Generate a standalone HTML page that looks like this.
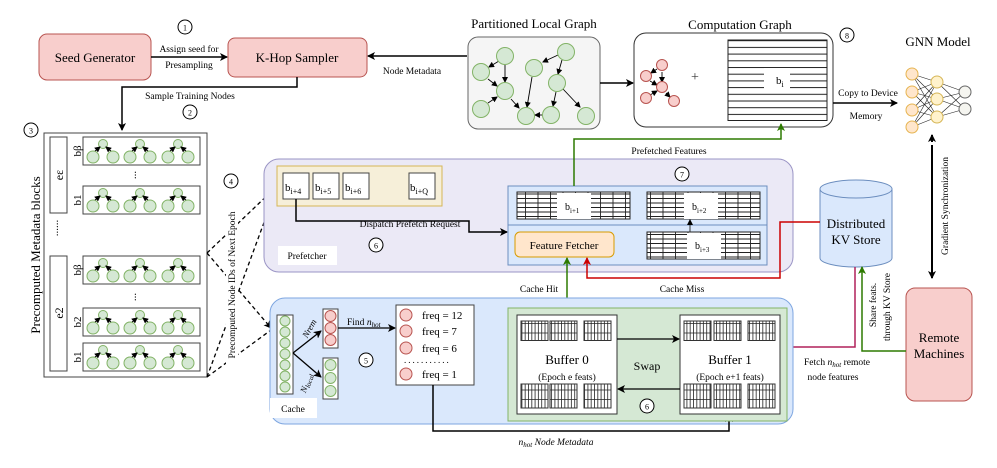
<!DOCTYPE html>
<html><head><meta charset="utf-8"><style>
html,body{margin:0;padding:0;background:#fff;font-family:"Liberation Serif","DejaVu Serif",serif}
svg{display:block}
svg text{font-family:"Liberation Serif","DejaVu Serif",serif}
</style></head><body>
<svg width="997" height="468" viewBox="0 0 997 468" xmlns="http://www.w3.org/2000/svg" font-family="Liberation Serif, DejaVu Serif, serif">
<defs>
<marker id="ah" markerWidth="8" markerHeight="8" refX="7" refY="4" orient="auto" markerUnits="userSpaceOnUse"><path d="M0,0 L8,4 L0,8 L2,4z" fill="#000"/></marker>
<marker id="ahg" markerWidth="8" markerHeight="8" refX="7" refY="4" orient="auto" markerUnits="userSpaceOnUse"><path d="M0,0 L8,4 L0,8 L2,4z" fill="#2d7a00"/></marker>
<marker id="ahr" markerWidth="8" markerHeight="8" refX="7" refY="4" orient="auto" markerUnits="userSpaceOnUse"><path d="M0,0 L8,4 L0,8 L2,4z" fill="#c00"/></marker>
<marker id="ahm" markerWidth="8" markerHeight="8" refX="7" refY="4" orient="auto" markerUnits="userSpaceOnUse"><path d="M0,0 L8,4 L0,8 L2,4z" fill="#b0205a"/></marker>
<marker id="ahs" markerWidth="6" markerHeight="6" refX="5" refY="3" orient="auto" markerUnits="userSpaceOnUse"><path d="M0,0 L6,3 L0,6z" fill="#000"/></marker>
<pattern id="grid" width="12.5" height="4.5" patternUnits="userSpaceOnUse"><rect width="12.5" height="4.5" fill="#fff"/><path d="M0,0.5H12.5M0.5,0V4.5" stroke="#222" stroke-width="0.9"/></pattern>
<pattern id="vg" width="3.3" height="9.5" patternUnits="userSpaceOnUse"><rect width="3.3" height="9.5" fill="#fff"/><path d="M0.5,0V9.5M0,0.5H3.3" stroke="#222" stroke-width="0.8"/></pattern>
<pattern id="hl" width="10" height="6.7" patternUnits="userSpaceOnUse"><rect width="10" height="6.7" fill="#fff"/><path d="M0,0.5H10" stroke="#222" stroke-width="1"/></pattern>
<g id="tree">
<circle cx="20" cy="7" r="4.5" fill="#d5e8d4" stroke="#82b366"/>
<circle cx="10" cy="20" r="6" fill="#d5e8d4" stroke="#82b366"/>
<circle cx="30" cy="20" r="6" fill="#d5e8d4" stroke="#82b366"/>
<path d="M12,14 L17,10" stroke="#000" stroke-width="0.9" marker-end="url(#ahs)"/>
<path d="M28,14 L23,10" stroke="#000" stroke-width="0.9" marker-end="url(#ahs)"/>
</g>
<g id="row"><rect x="0" y="0" width="117" height="28" fill="#fff" stroke="#444"/><use href="#tree" x="0" y="0"/><use href="#tree" x="37" y="0"/><use href="#tree" x="75" y="0"/></g>
</defs>

<!-- top row -->
<rect x="39" y="34" width="112" height="46" rx="8" fill="#f8cecc" stroke="#b85450"/>
<text x="95" y="62" font-size="13" text-anchor="middle">Seed Generator</text>
<rect x="228" y="38" width="139" height="39" rx="7" fill="#f8cecc" stroke="#b85450"/>
<text x="297" y="62" font-size="13" text-anchor="middle">K-Hop Sampler</text>
<circle cx="185" cy="27" r="7" fill="#fff" stroke="#000"/><text x="185" y="30.5" font-size="8" text-anchor="middle">1</text>
<path d="M151,57H227" stroke="#000" stroke-width="1.5" marker-end="url(#ah)"/>
<text x="189" y="52" font-size="9.5" text-anchor="middle">Assign seed for</text>
<text x="189" y="68" font-size="9.5" text-anchor="middle">Presampling</text>
<path d="M467,56H368" stroke="#000" stroke-width="1.5" marker-end="url(#ah)"/>
<text x="412" y="74" font-size="9.5" text-anchor="middle">Node Metadata</text>
<path d="M297,77V87H122V130" fill="none" stroke="#000" stroke-width="1.5" marker-end="url(#ah)"/>
<text x="190" y="99" font-size="9.5" text-anchor="middle">Sample Training Nodes</text>
<circle cx="190" cy="112" r="7" fill="#fff" stroke="#000"/><text x="190" y="115.5" font-size="8" text-anchor="middle">2</text>

<!-- partitioned graph -->
<text x="534" y="28" font-size="13" text-anchor="middle">Partitioned Local Graph</text>
<rect x="468" y="37" width="132" height="92" rx="10" fill="#f5f5f5" stroke="#666"/>
<g stroke="#000" stroke-width="0.9">
<path d="M499,61L489,67" marker-end="url(#ahs)"/><path d="M505,65V82" marker-end="url(#ahs)"/><path d="M488,79L497,86" marker-end="url(#ahs)"/>
<path d="M488,103L497,97" marker-end="url(#ahs)"/><path d="M511,99L519,108" marker-end="url(#ahs)"/><path d="M532,77L527,107" marker-end="url(#ahs)"/>
<path d="M558,55L543,62" marker-end="url(#ahs)"/><path d="M562,60L558,74" marker-end="url(#ahs)"/><path d="M556,92L553,106" marker-end="url(#ahs)"/>
<path d="M563,89L580,107" marker-end="url(#ahs)"/><path d="M543,115H535" marker-end="url(#ahs)"/>
</g>
<g fill="#d5e8d4" stroke="#82b366">
<circle cx="505" cy="56" r="8.5"/><circle cx="481" cy="72" r="8.5"/><circle cx="505" cy="91" r="8.5"/><circle cx="481" cy="109" r="8.5"/>
<circle cx="534" cy="68" r="8.5"/><circle cx="566" cy="52" r="8.5"/><circle cx="557" cy="83" r="8.5"/><circle cx="526" cy="116" r="8.5"/>
<circle cx="551" cy="115" r="8.5"/><circle cx="586" cy="116" r="8.5"/>
</g>
<path d="M600,83H633" stroke="#000" stroke-width="1.5" marker-end="url(#ah)"/>

<!-- computation graph -->
<text x="740" y="29" font-size="13" text-anchor="middle">Computation Graph</text>
<rect x="634" y="33" width="199" height="94" rx="12" fill="#fff" stroke="#333"/>
<circle cx="847" cy="35" r="7" fill="#fff" stroke="#000"/><text x="847" y="38.5" font-size="8" text-anchor="middle">8</text>
<g stroke="#000" stroke-width="0.9">
<path d="M657,69L651,73" marker-end="url(#ahs)"/><path d="M662,72V82" marker-end="url(#ahs)"/><path d="M650,81L657,85" marker-end="url(#ahs)"/>
<path d="M650,95L657,91" marker-end="url(#ahs)"/><path d="M666,93L670,97" marker-end="url(#ahs)"/>
</g>
<g fill="#f8cecc" stroke="#b85450"><circle cx="662" cy="65" r="5.5"/><circle cx="646" cy="76" r="5.5"/><circle cx="662" cy="87" r="5.5"/><circle cx="646" cy="98" r="5.5"/><circle cx="674" cy="101" r="5.5"/></g>
<text x="695" y="81" font-size="14" text-anchor="middle" fill="#333">+</text>
<rect x="728" y="40" width="99" height="80.5" fill="url(#hl)" stroke="#222"/>
<rect x="764" y="68" width="26" height="25" fill="#fff"/>
<text x="776" y="84" font-size="11">b<tspan font-size="8" dy="3">i</tspan></text>
<path d="M833,103H897" stroke="#000" stroke-width="1.5" marker-end="url(#ah)"/>
<text x="868" y="96" font-size="9.5" text-anchor="middle">Copy to Device</text>
<text x="866" y="119" font-size="9.5" text-anchor="middle">Memory</text>

<!-- GNN -->
<text x="938" y="46" font-size="13" text-anchor="middle">GNN Model</text>
<g stroke="#222" stroke-width="0.6">
<path d="M912,74L937,82M912,74L937,99M912,74L937,117M912,92L937,82M912,92L937,99M912,92L937,117M912,110L937,82M912,110L937,99M912,110L937,117M912,127L937,82M912,127L937,99M912,127L937,117M937,82L965,92M937,82L965,109M937,99L965,92M937,99L965,109M937,117L965,92M937,117L965,109"/>
</g>
<g fill="#ffe6cc" stroke="#e6b450"><circle cx="912" cy="74" r="6"/><circle cx="912" cy="92" r="6"/><circle cx="912" cy="110" r="6"/><circle cx="912" cy="127" r="6"/></g>
<g fill="#fff2cc" stroke="#d6b656"><circle cx="937" cy="82" r="6"/><circle cx="937" cy="99" r="6"/><circle cx="937" cy="117" r="6"/></g>
<g fill="#f5f5f0" stroke="#666"><circle cx="965" cy="92" r="6"/><circle cx="965" cy="109" r="6"/></g>
<path d="M932,145V270" stroke="#000" stroke-width="2"/>
<path d="M932,142V135" stroke="#000" stroke-width="2" marker-end="url(#ah)"/>
<path d="M932,270V278" stroke="#000" stroke-width="2" marker-end="url(#ah)"/>
<text transform="translate(948,206) rotate(-90)" font-size="9.5" text-anchor="middle">Gradient Synchronization</text>

<!-- metadata blocks -->
<circle cx="31" cy="130" r="7" fill="#fff" stroke="#000"/><text x="31" y="133.5" font-size="8" text-anchor="middle">3</text>
<rect x="44" y="133" width="163" height="244" fill="#fff" stroke="#444"/>
<text transform="translate(40,255) rotate(-90)" font-size="13" text-anchor="middle">Precomputed Metadata blocks</text>
<rect x="50" y="137" width="17" height="76" fill="#fff" stroke="#444"/>
<text transform="translate(63,175) rotate(-90)" font-size="12" text-anchor="middle">eε</text>
<rect x="50" y="256" width="17" height="115" fill="#fff" stroke="#444"/>
<text transform="translate(63,313) rotate(-90)" font-size="12" text-anchor="middle">e2</text>
<text transform="translate(58,228) rotate(-90)" font-size="11" text-anchor="middle">......</text>
<use href="#row" x="83" y="137"/><use href="#row" x="83" y="186"/><use href="#row" x="83" y="256"/><use href="#row" x="83" y="308"/><use href="#row" x="83" y="343"/>
<g font-size="11" text-anchor="middle">
<text transform="translate(81,151) rotate(-90)">bβ</text><text transform="translate(81,200) rotate(-90)">b1</text>
<text transform="translate(81,270) rotate(-90)">bβ</text><text transform="translate(81,322) rotate(-90)">b2</text><text transform="translate(81,357) rotate(-90)">b1</text>
<text transform="translate(136,175) rotate(-90)">...</text><text transform="translate(136,297) rotate(-90)">...</text>
</g>

<!-- dashed -->
<circle cx="231" cy="181" r="7" fill="#fff" stroke="#000"/><text x="231" y="184.5" font-size="8" text-anchor="middle">4</text>
<g stroke="#000" stroke-width="1.3" stroke-dasharray="4,3" fill="none">
<path d="M207,253L275,188" marker-end="url(#ah)"/><path d="M207,253L271,328" marker-end="url(#ah)"/>
<path d="M207,377L276,190"/><path d="M207,377L271,330"/>
</g>
<rect x="226" y="205" width="12" height="160" fill="#fff"/>
<text transform="translate(235,285) rotate(-90)" font-size="9.5" text-anchor="middle">Precomputed Node IDs of Next Epoch</text>

<!-- prefetcher -->
<rect x="264" y="159" width="529" height="113" rx="15" fill="#ebe9f6" stroke="#9a94c5"/>
<rect x="278" y="246" width="59" height="19" fill="#fff"/>
<text x="307" y="259" font-size="9.5" text-anchor="middle">Prefetcher</text>
<circle cx="376" cy="245" r="7" fill="#fff" stroke="#000"/><text x="376" y="248.5" font-size="8" text-anchor="middle">6</text>
<rect x="277" y="166" width="165" height="40" fill="#f6efd9" stroke="#d6b656"/>
<g fill="#fff" stroke="#444"><rect x="283" y="173" width="26" height="26"/><rect x="313" y="173" width="26" height="26"/><rect x="343" y="173" width="26" height="26"/><rect x="409" y="173" width="26" height="26"/></g>
<g font-size="11"><text x="285" y="191">b<tspan font-size="8" dy="3">i+4</tspan></text><text x="315" y="191">b<tspan font-size="8" dy="3">i+5</tspan></text><text x="345" y="191">b<tspan font-size="8" dy="3">i+6</tspan></text><text x="410" y="191">b<tspan font-size="8" dy="3">i+Q</tspan></text></g>
<path d="M296,199V221H469V232H507" fill="none" stroke="#000" stroke-width="1.5" marker-end="url(#ah)"/>
<text x="410" y="227" font-size="9.5" text-anchor="middle">Dispatch Prefetch Request</text>
<circle cx="682" cy="174" r="7" fill="#fff" stroke="#000"/><text x="682" y="177.5" font-size="8" text-anchor="middle">7</text>
<rect x="508" y="186" width="259" height="79" fill="#dae8fc" stroke="#6c8ebf"/>
<path d="M508,225H767" stroke="#6c8ebf"/>
<rect x="517" y="192" width="113" height="27" fill="url(#grid)" stroke="#222"/><rect x="557" y="193" width="34" height="26" fill="#fff"/>
<text x="565" y="210" font-size="10">b<tspan font-size="7" dy="3">i+1</tspan></text>
<rect x="647" y="192" width="113" height="27" fill="url(#grid)" stroke="#222"/><rect x="684" y="193" width="34" height="26" fill="#fff"/>
<text x="692" y="210" font-size="10">b<tspan font-size="7" dy="3">i+2</tspan></text>
<rect x="647" y="232" width="113" height="27" fill="url(#grid)" stroke="#222"/><rect x="687" y="233" width="34" height="26" fill="#fff"/>
<text x="695" y="249" font-size="10">b<tspan font-size="7" dy="3">i+3</tspan></text>
<path d="M690,232V220" stroke="#333" marker-end="url(#ahs)"/>
<rect x="515" y="232" width="99" height="25" rx="5" fill="#ffe6cc" stroke="#d79b00"/>
<text x="564" y="249" font-size="11" text-anchor="middle">Feature Fetcher</text>
<path d="M574,186V139H781V124" fill="none" stroke="#2d7a00" stroke-width="1.5" marker-end="url(#ahg)"/>
<text x="669" y="154" font-size="9.5" text-anchor="middle">Prefetched Features</text>

<!-- KV store -->
<path d="M820,189V258A36,9 0 0 0 892,258V189" fill="#dae8fc" stroke="#6c8ebf"/>
<ellipse cx="856" cy="189" rx="36" ry="9" fill="#dae8fc" stroke="#6c8ebf"/>
<text x="856" y="228" font-size="13" text-anchor="middle">Distributed</text>
<text x="856" y="244" font-size="13" text-anchor="middle">KV Store</text>
<path d="M820,222H780V278H587V258" fill="none" stroke="#c00" stroke-width="1.5" marker-end="url(#ahr)"/>
<text x="682" y="292" font-size="9.5" text-anchor="middle">Cache Miss</text>
<path d="M567,314V258" stroke="#2d7a00" stroke-width="1.5" marker-end="url(#ahg)"/>
<text x="539" y="292" font-size="9.5" text-anchor="middle">Cache Hit</text>

<!-- remote -->
<rect x="906" y="288" width="66" height="113" rx="9" fill="#f8cecc" stroke="#b85450"/>
<text x="939" y="342" font-size="13" text-anchor="middle">Remote</text>
<text x="939" y="358" font-size="13" text-anchor="middle">Machines</text>
<path d="M906,351H862V267" fill="none" stroke="#2d7a00" stroke-width="1.5" marker-end="url(#ahg)"/>
<path d="M855,267V347H782" fill="none" stroke="#b0205a" stroke-width="1.5" marker-end="url(#ahm)"/>
<text transform="translate(876,305) rotate(-90)" font-size="9.5" text-anchor="middle">Share feats.</text>
<text transform="translate(890,307) rotate(-90)" font-size="9.5" text-anchor="middle">through KV Store</text>
<text x="837" y="365" font-size="9.5" text-anchor="middle">Fetch <tspan font-style="italic">n</tspan><tspan font-style="italic" font-size="7" dy="2">hot</tspan><tspan dy="-2"> remote</tspan></text>
<text x="833" y="380" font-size="9.5" text-anchor="middle">node features</text>

<!-- cache -->
<rect x="270" y="298" width="523" height="126" rx="15" fill="#dae8fc" stroke="#7ea6e0"/>
<rect x="270" y="398" width="47" height="20" fill="#fff"/>
<text x="293" y="412" font-size="9.5" text-anchor="middle">Cache</text>
<rect x="277" y="315" width="16" height="79" fill="#fff" stroke="#444"/>
<g fill="#d5e8d4" stroke="#82b366"><circle cx="285" cy="321" r="5"/><circle cx="285" cy="332" r="5"/><circle cx="285" cy="343" r="5"/><circle cx="285" cy="354" r="5"/><circle cx="285" cy="365" r="5"/><circle cx="285" cy="376" r="5"/><circle cx="285" cy="387" r="5"/></g>
<path d="M293,353L321,331" stroke="#000" stroke-width="1.3" marker-end="url(#ah)"/>
<path d="M293,353L321,377" stroke="#000" stroke-width="1.3" marker-end="url(#ah)"/>
<text transform="translate(312,330) rotate(-60)" font-size="9" font-style="italic" text-anchor="middle">Nrem</text>
<text transform="translate(309,384) rotate(-70)" font-size="9" font-style="italic" text-anchor="middle">N<tspan font-size="7" dy="2">local</tspan></text>
<rect x="323" y="309" width="15" height="39" fill="#fff" stroke="#444"/>
<g fill="#f8cecc" stroke="#b85450"><circle cx="330.5" cy="316" r="5.5"/><circle cx="330.5" cy="328" r="5.5"/><circle cx="330.5" cy="340" r="5.5"/></g>
<rect x="323" y="358" width="15" height="41" fill="#fff" stroke="#444"/>
<g fill="#d5e8d4" stroke="#82b366"><circle cx="330.5" cy="365" r="5.5"/><circle cx="330.5" cy="378" r="5.5"/><circle cx="330.5" cy="391" r="5.5"/></g>
<path d="M338,328H395" stroke="#000" stroke-width="1.3" marker-end="url(#ah)"/>
<text x="347" y="325" font-size="9.5">Find <tspan font-style="italic">n</tspan><tspan font-style="italic" font-size="7" dy="2">hot</tspan></text>
<circle cx="366" cy="360" r="7" fill="#fff" stroke="#000"/><text x="366" y="363.5" font-size="8" text-anchor="middle">5</text>
<rect x="396" y="305" width="78" height="80" fill="#fff" stroke="#444"/>
<g fill="#f8cecc" stroke="#b85450"><circle cx="406" cy="315" r="6"/><circle cx="406" cy="331" r="6"/><circle cx="406" cy="348" r="6"/><circle cx="406" cy="374" r="6"/></g>
<g font-size="11"><text x="422" y="319">freq = 12</text><text x="422" y="335">freq = 7</text><text x="422" y="352">freq = 6</text><text x="422" y="378">freq = 1</text></g>
<text x="404" y="363" font-size="9" letter-spacing="2">...........</text>
<path d="M433,385V431H729V415" fill="none" stroke="#000" stroke-width="1.5" marker-end="url(#ah)"/>
<text x="556" y="445" font-size="9.5" font-style="italic" text-anchor="middle">n<tspan font-size="7" dy="2">hot</tspan><tspan dy="-2"> Node Metadata</tspan></text>

<rect x="508" y="308" width="279" height="113" fill="#d5e8d4" stroke="#82b366"/>
<rect x="517" y="315" width="100" height="99" fill="#fff" stroke="#333"/>
<rect x="680" y="315" width="100" height="99" fill="#fff" stroke="#333"/>
<g stroke="#333">
<rect x="521" y="321" width="27" height="19.5" fill="url(#vg)"/><rect x="550" y="321" width="27" height="19.5" fill="url(#vg)"/><rect x="584" y="321" width="27" height="19.5" fill="url(#vg)"/>
<rect x="521" y="384" width="27" height="24" fill="url(#vg)"/><rect x="550" y="384" width="27" height="24" fill="url(#vg)"/><rect x="584" y="384" width="27" height="24" fill="url(#vg)"/>
<rect x="684" y="321" width="27" height="19.5" fill="url(#vg)"/><rect x="714" y="321" width="27" height="19.5" fill="url(#vg)"/><rect x="748" y="321" width="27" height="19.5" fill="url(#vg)"/>
<rect x="684" y="384" width="27" height="24" fill="url(#vg)"/><rect x="714" y="384" width="27" height="24" fill="url(#vg)"/><rect x="748" y="384" width="27" height="24" fill="url(#vg)"/>
</g>
<text x="567" y="364" font-size="13" text-anchor="middle">Buffer 0</text>
<text x="567" y="380" font-size="9.5" text-anchor="middle">(Epoch e  feats)</text>
<text x="730" y="364" font-size="13" text-anchor="middle">Buffer 1</text>
<text x="730" y="380" font-size="9.5" text-anchor="middle">(Epoch e+1  feats)</text>
<path d="M617,339H679" stroke="#000" stroke-width="1.3" marker-end="url(#ah)"/>
<path d="M680,389H618" stroke="#000" stroke-width="1.3" marker-end="url(#ah)"/>
<text x="647" y="370" font-size="12" text-anchor="middle">Swap</text>
<circle cx="647" cy="406" r="7" fill="#fff" stroke="#000"/><text x="647" y="409.5" font-size="8" text-anchor="middle">6</text>
</svg>
</body></html>
